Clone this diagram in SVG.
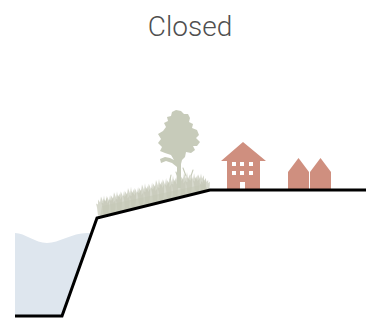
<svg xmlns="http://www.w3.org/2000/svg" width="366" height="324" viewBox="0 0 366 324">
  <defs>
    <!-- one grassy tuft, drawn from its base centre -->
    <path id="tuft" d="M-5,0 L-6,-8 L-7,-12 L-5,-11 L-5,-16 L-3,-13 L-2,-19 L0,-14 L1,-20 L2,-14 L4,-18 L4,-12 L6,-15 L6,-8 L5,0 Z"/>
  </defs>
  <style>
    .title { font-family: Roboto, "Liberation Sans", sans-serif; font-weight: 300; font-size: 28px; fill: #4f4f4f; }
    .veg { fill: #c7cbba; }
    .tuft { fill: #c4c8b6; fill-opacity: 0.7; }
    .twig { fill: none; stroke: #c7cbba; stroke-width: 1.1; stroke-linecap: round; }
    .bldg { fill: #cf8f7f; }
    .win { fill: #ffffff; }
    .ground { fill: none; stroke: #000; stroke-width: 3; stroke-linejoin: miter; }
  </style>
  <rect width="366" height="324" fill="#ffffff"/>

  <text class="title" x="190" y="36" text-anchor="middle">Closed</text>

  <!-- water body in the channel -->
  <g id="water">
    <path d="M15,233 C25,233 35,243 47,243 C59,243 72,233 87,233 L91.6,233 L62,316 L15,316 Z" fill="#dee6ee"/>
  </g>

  <!-- low shrubs along the bank -->
  <g id="shrubs">
    <path d="M100,217 L102,206 L150,196 L205,184 L208,191 L150,205 Z" fill="#d4d7c9" fill-opacity="0.8"/>
    <use href="#tuft" class="tuft" transform="translate(103,215.5) scale(1,1)"/>
    <use href="#tuft" class="tuft" transform="translate(109,214) scale(1.1,0.95)"/>
    <use href="#tuft" class="tuft" transform="translate(116,212.2) scale(1,1.05)"/>
    <use href="#tuft" class="tuft" transform="translate(123,210.5) scale(1.1,1)"/>
    <use href="#tuft" class="tuft" transform="translate(130,208.8) scale(1,1.1)"/>
    <use href="#tuft" class="tuft" transform="translate(137,207) scale(1.1,1)"/>
    <use href="#tuft" class="tuft" transform="translate(144,205.3) scale(1,1.1)"/>
    <use href="#tuft" class="tuft" transform="translate(151,203.6) scale(1.1,1.05)"/>
    <use href="#tuft" class="tuft" transform="translate(158,201.8) scale(1,1.15)"/>
    <use href="#tuft" class="tuft" transform="translate(165,200.1) scale(1.1,1.1)"/>
    <use href="#tuft" class="tuft" transform="translate(172,198.4) scale(1,1.15)"/>
    <use href="#tuft" class="tuft" transform="translate(179,196.6) scale(1.1,1.1)"/>
    <use href="#tuft" class="tuft" transform="translate(186,194.9) scale(1,1.15)"/>
    <use href="#tuft" class="tuft" transform="translate(193,193.2) scale(1.1,1)"/>
    <use href="#tuft" class="tuft" transform="translate(200,191.4) scale(1,0.9)"/>
    <use href="#tuft" class="tuft" transform="translate(205,190.5) scale(0.8,0.6)"/>
    <path class="twig" d="M186,176 L183,168 M191,176 L193,170 M178,178 L176,172 M170,180 L171,175"/>
  </g>

  <!-- tree -->
  <g id="tree">
    <path class="veg" d="M176,110 L181,111 L184,114 L188,114 L190,118 L189,122 L193,124 L192,128 L197,130 L199,135 L196,138 L200,142 L197,146 L193,146 L195,150 L191,153 L186,152 L185,157 L182,160 L181,164 L181,188 L177,188 L177,167 L172,163 L166,161 L161,163 L160,159 L165,157 L170,158 L174,160 L171,155 L165,153 L160,151 L162,147 L158,143 L161,139 L158,134 L163,131 L166,127 L164,123 L168,121 L167,117 L171,116 L172,112 Z"/>
  </g>

  <!-- apartment block -->
  <g id="apartment">
    <path class="bldg" d="M243,142 L266,161 L260,161 L260,190 L227,190 L227,161 L221,161 Z"/>
    <rect class="win" x="232" y="162" width="4" height="4"/>
    <rect class="win" x="240" y="162" width="4" height="4"/>
    <rect class="win" x="249" y="162" width="4" height="4"/>
    <rect class="win" x="232" y="171" width="4" height="4"/>
    <rect class="win" x="240" y="171" width="4" height="4"/>
    <rect class="win" x="249" y="171" width="4" height="4"/>
    <rect class="win" x="240" y="182" width="5" height="8"/>
  </g>

  <!-- pair of houses -->
  <g id="house-left">
    <path class="bldg" d="M288,190 L288,172 L298.5,158 L309,172 L309,190 Z"/>
  </g>
  <g id="house-right">
    <path class="bldg" d="M310,190 L310,172 L320.5,158 L331,172 L331,190 Z"/>
  </g>

  <!-- ground profile -->
  <g id="connectors">
    <path class="ground" d="M15,316 L62,316 L97,218 L210,190 L366,190"/>
  </g>
</svg>
